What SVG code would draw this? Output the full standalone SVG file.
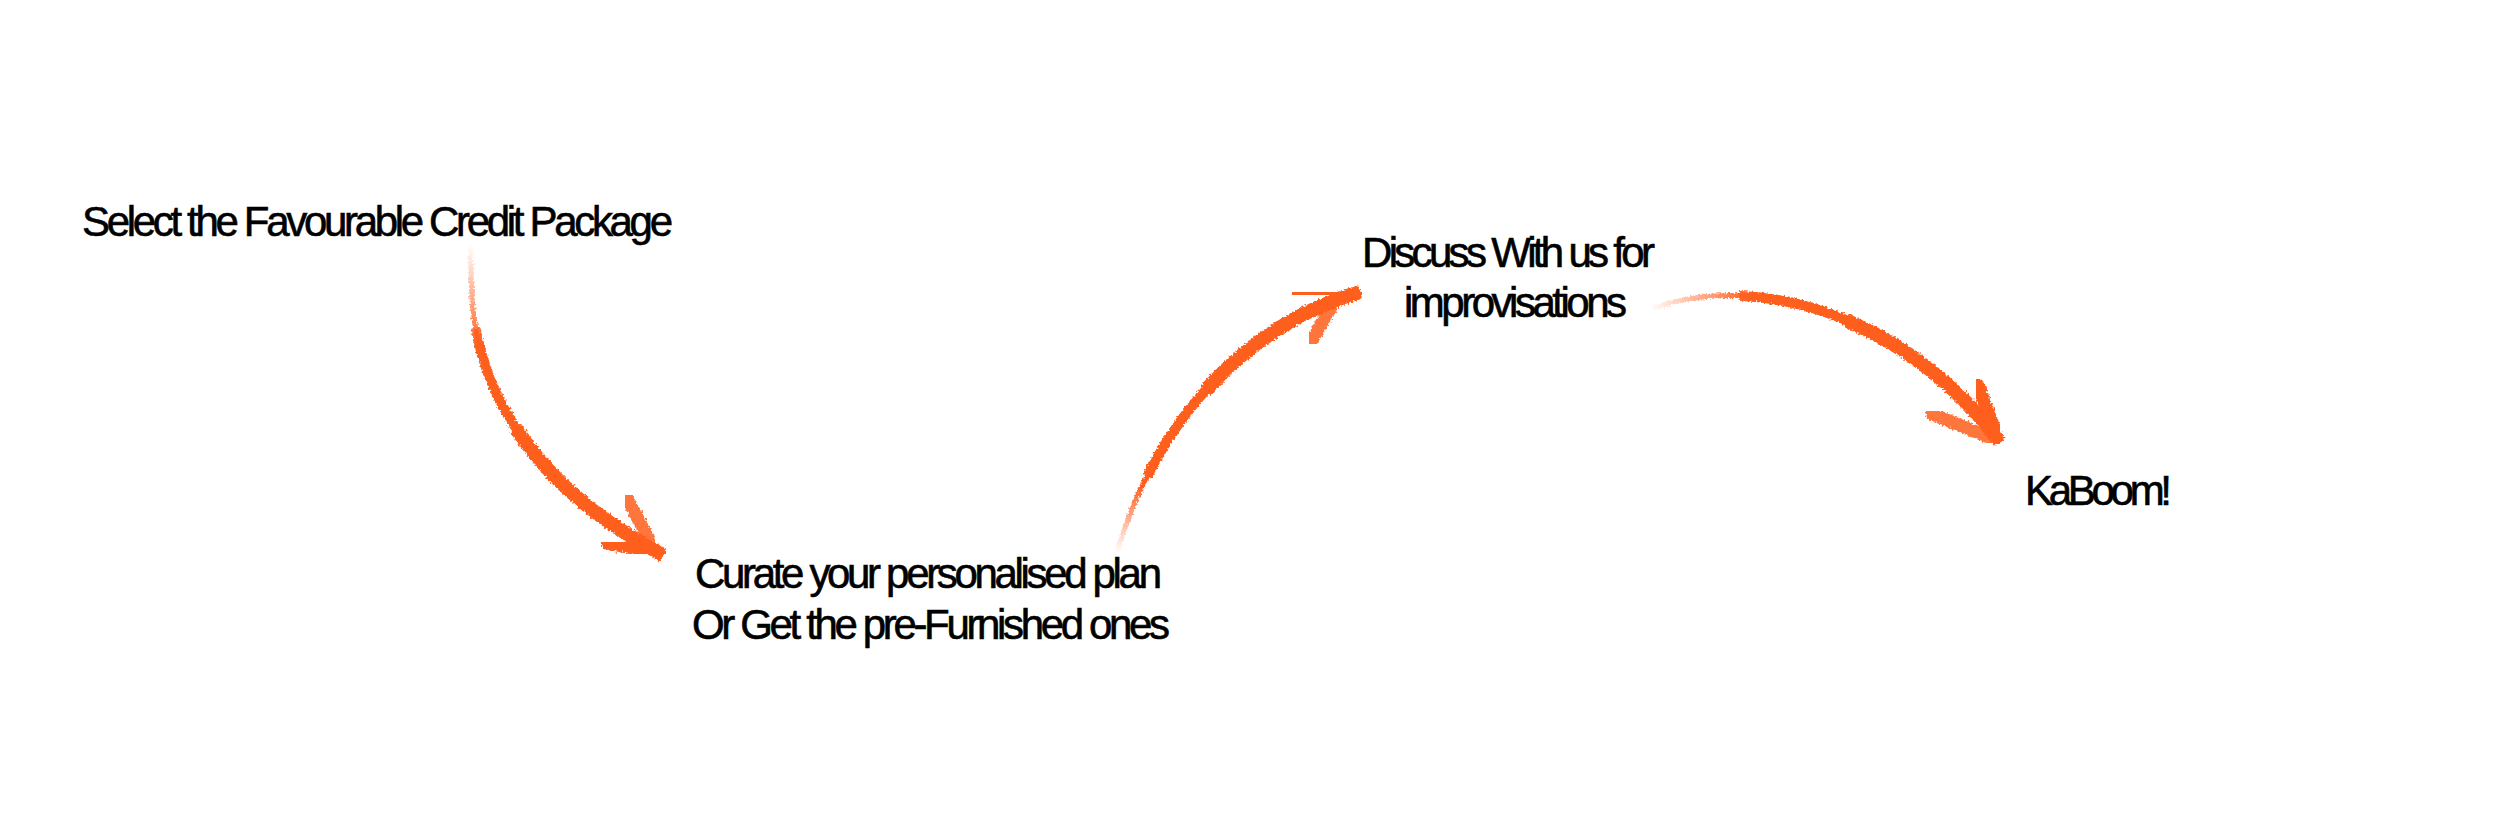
<svg xmlns="http://www.w3.org/2000/svg" width="2500" height="833" viewBox="0 0 2500 833">
  <defs>
    <style>
      .lbl { font-family: "Liberation Sans", Arial, sans-serif; font-size: 42px; fill: #000; stroke: #000; stroke-width: 0.6px; }
      .br { fill: none; stroke-linecap: butt; stroke-linejoin: round; filter: url(#rough); }
      .w1 { stroke-width: 5; }
      .w2 { stroke-width: 10; stroke-dasharray: 0 22 78; }
      .w3 { stroke-width: 14; stroke-dasharray: 0 50 50; }
      .barb { fill: none; stroke: #FF5F1F; stroke-width: 13; stroke-linecap: round; filter: url(#rough); }
    </style>
    <filter id="rough" x="-10%" y="-10%" width="120%" height="120%">
      <feTurbulence type="fractalNoise" baseFrequency="0.5" numOctaves="2" seed="3" result="n"/>
      <feDisplacementMap in="SourceGraphic" in2="n" scale="6" xChannelSelector="R" yChannelSelector="G"/>
    </filter>
    <linearGradient id="g1" gradientUnits="userSpaceOnUse" x1="470" y1="245" x2="484" y2="345">
      <stop offset="0" stop-color="#FF5F1F" stop-opacity="0"/>
      <stop offset="1" stop-color="#FF5F1F" stop-opacity="1"/>
    </linearGradient>
    <linearGradient id="g2" gradientUnits="userSpaceOnUse" x1="1117" y1="552" x2="1137" y2="485">
      <stop offset="0" stop-color="#FF5F1F" stop-opacity="0"/>
      <stop offset="1" stop-color="#FF5F1F" stop-opacity="1"/>
    </linearGradient>
    <linearGradient id="g3" gradientUnits="userSpaceOnUse" x1="1650" y1="308" x2="1750" y2="298">
      <stop offset="0" stop-color="#FF5F1F" stop-opacity="0"/>
      <stop offset="1" stop-color="#FF5F1F" stop-opacity="1"/>
    </linearGradient>
  </defs>

  <g id="connectors">
    <g id="arrow1">
      <path class="br w1" stroke="url(#g1)" pathLength="100" d="M470,242 L472,300 C480,400 540,490 663,555"/>
      <path class="br w2" stroke="url(#g1)" pathLength="100" d="M470,242 L472,300 C480,400 540,490 663,555"/>
      <path class="br w3" stroke="url(#g1)" pathLength="100" d="M470,242 L472,300 C480,400 540,490 663,555"/>
      <path class="barb" d="M607,543 L660,553"/>
      <path class="barb" opacity="0.85" d="M628,500 L652,545"/>
    </g>
    <g id="arrow2">
      <path class="br w1" stroke="url(#g2)" pathLength="100" d="M1117,552 C1150,440 1230,330 1360,292"/>
      <path class="br w2" stroke="url(#g2)" pathLength="100" d="M1117,552 C1150,440 1230,330 1360,292"/>
      <path class="br w3" stroke="url(#g2)" pathLength="100" d="M1117,552 C1150,440 1230,330 1360,292"/>
      <path class="barb" d="M1298,294 L1356,293"/>
      <path class="barb" opacity="0.85" d="M1312,340 L1334,302"/>
    </g>
    <g id="arrow3">
      <path class="br w1" stroke="url(#g3)" pathLength="100" d="M1653,308 C1760,270 1910,320 2000,442"/>
      <path class="br w2" stroke="url(#g3)" pathLength="100" d="M1653,308 C1760,270 1910,320 2000,442"/>
      <path class="br w3" stroke="url(#g3)" pathLength="100" d="M1653,308 C1760,270 1910,320 2000,442"/>
      <path class="barb" opacity="0.85" d="M1932,414 L1996,440"/>
      <path class="barb" d="M1978,385 L1998,438"/>
    </g>
  </g>

  <g id="node-select">
    <text class="lbl" x="82" y="236" textLength="591" lengthAdjust="spacing">Select the Favourable Credit Package</text>
  </g>
  <g id="node-curate">
    <text class="lbl" x="695" y="588" textLength="467" lengthAdjust="spacing">Curate your personalised plan</text>
    <text class="lbl" x="692" y="639" textLength="478" lengthAdjust="spacing">Or Get the pre-Furnished ones</text>
  </g>
  <g id="node-discuss">
    <text class="lbl" x="1362" y="267" textLength="293" lengthAdjust="spacing">Discuss With us for</text>
    <text class="lbl" x="1404" y="317" textLength="223" lengthAdjust="spacing">improvisations</text>
  </g>
  <g id="node-kaboom">
    <text class="lbl" x="2025" y="505" textLength="147" lengthAdjust="spacing">KaBoom!</text>
  </g>
</svg>
